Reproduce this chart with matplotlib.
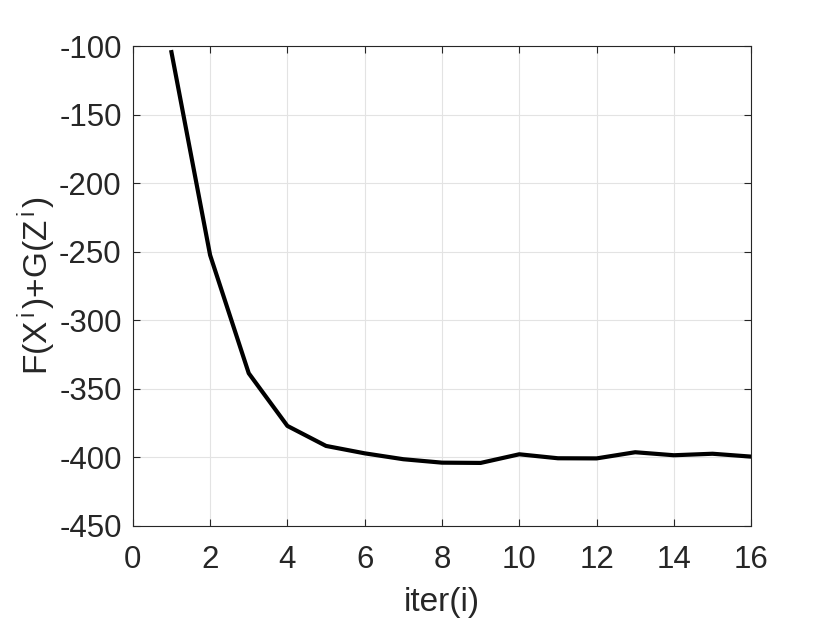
import numpy as np
import matplotlib
matplotlib.use('Agg')
import matplotlib.pyplot as plt

# values
iters = [1, 2, 3, 4, 5, 6, 7, 8, 9, 10, 11, 12, 13, 14, 15, 16]
obj = [-104.4, -252.4, -338.6, -377.0, -391.6, -397.0, -401.3, -403.8,
       -404.0, -397.7, -400.6, -400.7, -396.2, -398.4, -397.3, -399.4]

plt.rcParams['font.family'] = ['Liberation Sans', 'DejaVu Sans']
plt.rcParams['mathtext.fontset'] = 'custom'
plt.rcParams['mathtext.rm'] = 'Liberation Sans'
plt.rcParams['mathtext.it'] = 'Liberation Sans'
plt.rcParams['axes.unicode_minus'] = False

fig = plt.figure(figsize=(8.3, 6.23), dpi=100)
ax = fig.add_axes([0.160, 0.1557, 0.745, 0.7703])

ax.plot(iters, obj, color='black', lw=3)

ax.set_xlim(0, 16)
ax.set_ylim(-450, -100)
ax.set_xticks(np.arange(0, 17, 2))
ax.set_yticks(np.arange(-450, -99, 50))
ax.grid(True, color='#e3e3e3', lw=0.8)
ax.set_axisbelow(True)
ax.tick_params(direction='in', labelsize=22.5, length=5, width=0.8, pad=8,
               top=True, right=True, colors='#262626', labelcolor='#262626')
ax.tick_params(axis='x', pad=14)
for s in ax.spines.values():
    s.set_color('#262626')
    s.set_linewidth(0.8)

ax.set_xlabel('iter(i)', fontsize=24, color='#262626', labelpad=8)
ax.set_ylabel(r'F(X$^{\,\mathrm{i}\,}$)+G(Z$^{\,\mathrm{i}\,}$)', fontsize=24,
              color='#262626', labelpad=1)

fig.savefig('out.png', dpi=100)
